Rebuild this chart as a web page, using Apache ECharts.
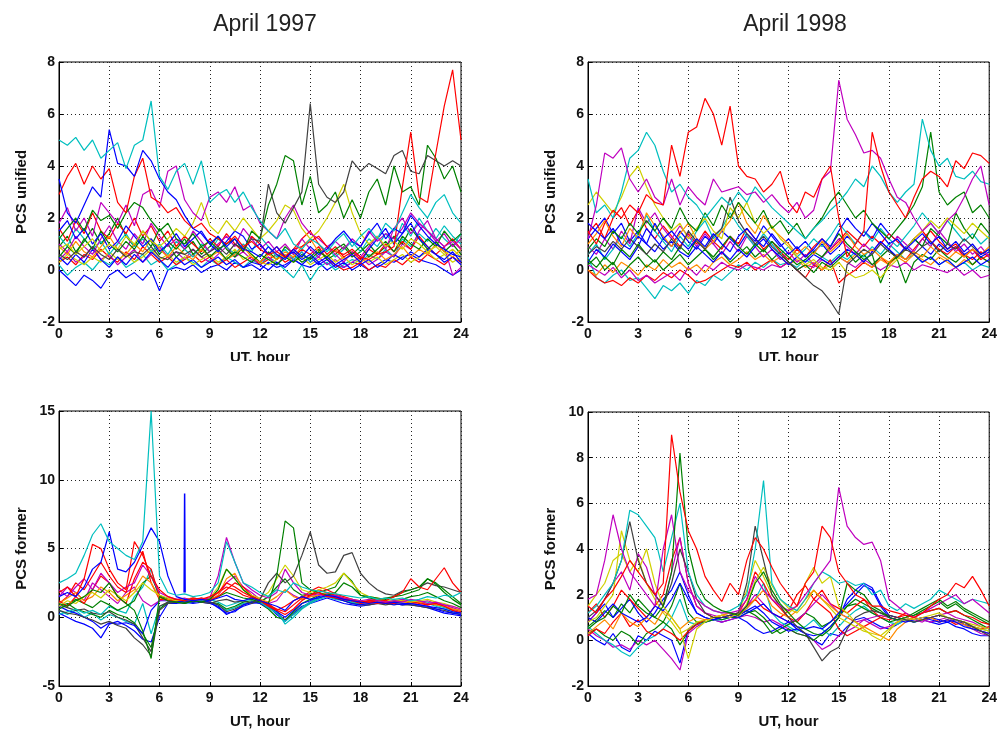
<!DOCTYPE html>
<html>
<head>
<meta charset="utf-8">
<script src="https://cdn.jsdelivr.net/npm/echarts@6/dist/echarts.min.js"></script>
<style>
  html, body { margin: 0; padding: 0; background: #fff; }
  #chart { width: 1000px; height: 733px; }
</style>
</head>
<body>
<div id="chart"></div>
<script>
// UT hours, half-hour steps
const hours = [0,0.5,1,1.5,2,2.5,3,3.5,4,4.5,5,5.5,6,6.5,7,7.5,8,8.5,9,9.5,10,10.5,11,11.5,12,12.5,13,13.5,14,14.5,15,15.5,16,16.5,17,17.5,18,18.5,19,19.5,20,20.5,21,21.5,22,22.5,23,23.5,24];

// ---- April 1997, PCS unified ----
const u97Cyan    = [5.0,4.8,5.1,4.6,5.0,4.3,4.6,4.9,3.9,4.8,5.0,6.5,3.6,3.1,3.8,4.1,3.3,4.2,2.6,2.9,3.1,2.6,3.0,2.4,1.9,1.5,1.2,1.6,1.0,0.8,1.2,1.0,0.7,1.1,1.4,0.9,1.3,1.6,1.2,1.8,1.5,2.2,2.9,2.4,2.0,2.6,2.9,2.2,1.8];
const u97Blue    = [3.5,2.2,1.8,2.5,3.2,2.8,5.4,4.1,4.0,3.6,4.6,4.2,3.5,3.0,2.7,2.1,1.6,1.4,1.0,1.3,0.9,1.2,0.8,0.7,0.5,0.9,0.6,0.4,0.8,0.5,0.9,0.6,0.8,1.2,1.5,1.1,0.9,1.4,1.8,1.2,1.6,1.4,2.1,1.7,1.3,1.0,0.8,0.6,0.5];
const u97Red     = [2.9,3.6,4.1,3.3,4.0,3.5,3.9,2.6,2.2,3.6,4.3,2.8,2.6,2.2,2.4,1.9,1.6,1.8,1.4,1.2,1.0,1.3,0.9,1.1,0.8,0.6,0.7,0.5,0.8,0.9,1.1,1.3,0.9,0.7,0.6,0.8,0.5,0.4,0.6,0.7,0.9,3.2,5.3,2.8,2.6,4.5,6.3,7.7,5.0];
const u97Black   = [0.6,0.4,0.7,0.5,0.9,0.6,0.4,0.8,0.5,0.7,0.6,0.9,0.5,0.4,0.7,0.6,0.8,0.5,0.7,0.9,0.6,1.0,0.8,1.2,1.1,3.3,2.2,1.8,2.4,3.0,6.4,3.3,2.8,2.6,3.0,4.2,3.8,4.1,3.9,3.7,4.4,4.6,3.8,3.7,4.4,4.2,4.0,4.2,4.0];
const u97Green   = [1.2,1.6,2.0,1.5,2.3,1.9,2.1,1.6,2.2,2.6,2.4,1.9,1.5,1.8,1.2,1.0,1.4,0.9,1.1,0.8,1.0,1.2,0.7,1.5,1.2,2.5,3.3,4.4,4.2,2.5,3.6,2.2,2.5,3.0,2.0,2.7,2.0,3.0,3.5,2.5,4.0,3.0,3.2,2.5,4.8,4.3,3.5,4.0,3.0];
const u97Magenta = [1.8,2.4,1.5,2.0,1.3,2.6,2.2,1.8,2.5,1.7,2.9,3.1,2.4,3.8,4.0,2.7,2.2,1.9,2.8,3.0,2.6,3.2,2.3,2.5,1.8,1.5,1.2,2.0,2.5,1.8,1.4,1.2,0.9,1.1,0.8,1.2,0.9,1.5,1.1,1.4,1.2,1.6,2.2,1.8,1.5,1.2,0.9,1.1,0.8];
const u97Yellow  = [0.8,1.0,0.6,0.9,1.2,0.7,1.0,0.8,1.3,1.0,1.5,1.1,0.9,1.2,1.6,1.3,1.8,2.6,1.7,1.4,1.9,1.5,2.0,1.6,1.2,1.5,1.9,2.5,2.3,1.6,1.2,1.5,2.0,2.6,3.3,2.2,1.4,1.0,1.3,0.9,1.1,0.8,1.2,1.0,0.7,0.9,0.6,0.8,0.5];
const u97BlueLow = [0.0,-0.3,-0.6,-0.2,-0.4,-0.7,-0.2,0.0,-0.3,-0.1,-0.4,0.0,-0.8,0.0,0.1,0.0,0.2,-0.1,0.1,0.2,0.0,0.3,0.1,0.2,0.0,0.3,0.1,0.2,0.4,0.2,0.1,0.3,0.0,0.2,0.1,0.3,0.2,0.0,0.2,0.4,0.3,0.5,0.6,0.4,0.3,0.2,0.0,-0.2,0.0];
const u97CyanLow = [0.2,-0.2,0.1,0.3,0.0,0.4,0.2,0.5,0.1,0.3,0.6,0.2,0.4,0.0,0.2,0.5,0.3,0.1,0.4,0.2,0.5,0.3,0.1,0.4,0.2,0.5,0.3,0.0,-0.3,0.2,-0.4,0.1,0.3,0.0,0.2,0.4,0.3,0.6,0.4,0.8,0.5,1.2,0.9,1.4,1.1,1.6,1.2,0.9,1.4];
const u97GreenMid = [0.5,0.9,0.6,1.2,0.8,1.5,1.0,0.7,1.1,0.8,1.3,0.9,1.6,1.1,0.8,1.2,0.6,0.9,0.5,0.8,0.4,0.7,0.5,0.3,0.6,0.4,0.2,0.5,0.3,0.6,0.4,0.7,0.5,0.8,1.0,0.6,0.9,0.5,0.8,1.1,0.7,1.3,1.0,0.8,1.2,0.9,1.5,1.1,1.4];
const u97RedLow  = [0.3,0.5,0.2,0.6,0.4,0.8,0.5,0.3,0.7,0.4,0.9,0.6,0.3,0.5,0.2,0.4,0.6,0.3,0.5,0.2,0.4,0.1,0.3,0.5,0.2,0.4,0.6,0.3,0.5,0.8,0.6,0.9,0.4,0.2,0.0,0.1,0.3,0.0,0.2,0.1,0.4,0.2,0.5,0.3,0.6,0.4,0.2,0.5,0.3];
const u97MagentaLow = [0.4,0.7,0.3,0.5,0.9,0.4,0.6,0.2,0.5,0.8,0.3,0.6,0.9,0.5,0.7,0.4,0.8,0.5,0.3,0.6,0.9,0.5,0.7,0.4,0.3,0.5,0.2,0.6,0.4,0.7,0.3,0.5,0.2,0.4,0.1,0.3,0.5,0.2,0.4,0.7,0.5,1.0,0.8,1.5,1.9,1.2,0.9,-0.2,0.1];
const u97BlueMid = [1.5,1.9,1.2,1.6,1.0,1.4,0.8,1.1,1.7,1.3,0.9,1.2,0.7,1.0,1.4,0.9,1.2,1.5,1.0,0.7,1.1,1.5,1.3,0.8,1.0,0.6,0.9,0.5,0.7,0.4,0.6,0.3,0.5,0.2,0.4,0.6,0.3,0.8,1.2,1.6,1.0,1.4,1.8,1.2,0.9,0.6,0.4,0.7,0.3];
const u97Orange  = [0.9,0.6,1.1,0.7,0.5,0.9,1.3,0.8,0.6,1.0,0.7,1.2,0.8,0.5,0.9,0.6,0.4,0.8,0.5,0.7,0.4,0.6,0.9,0.5,0.3,0.6,0.4,0.7,0.5,0.9,1.2,0.7,0.5,0.8,0.4,0.6,0.3,0.5,0.7,0.4,0.6,0.9,0.5,0.8,0.6,1.0,0.7,0.5,0.8];
const u97GreenLow2 = [0.9,1.3,0.7,1.1,1.6,1.0,1.4,2.0,1.3,0.9,1.5,1.1,0.6,1.0,0.5,0.8,1.1,0.6,0.9,1.3,0.8,0.5,0.9,0.6,0.3,0.7,0.4,0.9,0.6,0.3,0.5,0.8,0.4,0.6,0.9,0.5,0.7,1.0,0.6,0.9,1.3,1.0,1.6,1.2,0.8,1.1,0.7,1.0,0.6];
const u97RedMid  = [1.6,1.1,1.9,1.4,2.2,1.5,1.2,1.8,1.4,2.0,1.3,1.7,1.1,1.5,0.9,1.3,1.0,0.7,1.2,0.9,1.4,1.0,0.7,1.3,1.0,0.6,0.9,0.5,0.8,1.2,1.5,1.0,0.6,0.9,0.5,0.7,0.4,0.8,0.6,1.0,0.7,1.1,0.8,1.3,0.9,0.6,0.9,1.2,0.8];
const u97MagentaMid = [1.0,0.7,1.3,0.9,0.6,1.2,1.7,1.1,0.8,1.4,1.0,1.8,1.3,0.9,1.2,0.8,1.5,1.1,0.7,1.0,1.3,0.9,1.6,1.2,0.8,1.1,0.7,1.0,0.6,1.2,0.8,0.5,0.9,0.6,0.3,0.7,0.5,0.9,1.3,0.8,1.6,2.0,1.4,1.8,1.5,1.1,1.4,0.9,1.2];
const u97BlueLow2 = [0.5,0.2,0.6,0.3,0.8,0.4,0.1,0.5,0.2,0.6,0.3,0.7,0.4,0.1,0.5,0.2,0.4,0.1,0.3,0.5,0.2,0.4,0.1,0.3,0.2,0.0,0.3,0.1,0.4,0.2,0.5,0.2,0.4,0.1,0.3,0.0,0.2,0.4,0.1,0.3,0.6,0.4,0.7,0.5,0.8,0.6,0.3,0.5,0.2];
const u97CyanMid = [1.3,0.9,1.6,1.2,0.8,1.1,0.6,1.0,1.4,0.9,1.2,0.7,1.0,0.6,1.1,0.8,0.5,1.0,0.7,1.2,0.9,0.6,1.0,0.7,1.3,0.9,0.5,0.8,0.4,0.7,0.3,0.6,0.9,0.5,0.8,1.1,0.7,1.2,0.9,1.4,1.0,1.8,1.3,2.0,1.5,1.2,1.7,1.3,1.0];
const u97YellowLow = [0.3,0.6,0.4,0.2,0.5,0.3,0.7,0.4,0.6,0.3,0.5,0.8,0.4,0.6,0.3,0.5,0.2,0.4,0.6,0.3,0.5,0.8,0.4,0.6,0.3,0.2,0.4,0.6,0.3,0.5,0.2,0.4,0.6,0.3,0.5,0.2,0.4,0.3,0.5,0.2,0.4,0.6,0.3,0.5,0.7,0.4,0.6,0.3,0.5];

// ---- April 1998, PCS unified ----
const u98Red     = [1.5,1.0,1.8,2.3,2.0,2.5,2.2,2.9,2.6,2.5,4.8,3.6,5.3,5.5,6.6,6.0,4.8,6.3,4.0,3.6,3.5,3.0,3.3,3.8,2.6,2.2,3.0,2.8,3.5,4.0,2.0,0.5,1.0,1.5,5.3,4.0,3.0,2.5,2.0,2.8,3.5,3.8,3.6,3.2,4.2,3.9,4.5,4.4,4.1];
const u98Magenta = [1.2,2.5,4.5,4.3,4.7,3.5,3.0,3.5,2.8,2.5,3.5,2.5,3.2,2.8,2.5,3.5,3.0,3.1,3.2,2.9,3.0,2.6,2.9,2.5,2.2,2.6,2.0,2.3,3.5,3.8,7.3,5.8,5.2,4.5,4.6,4.3,3.5,2.8,2.6,2.0,1.5,1.8,1.4,1.9,2.2,2.8,3.5,4.0,2.5];
const u98Cyan    = [3.5,2.2,2.5,2.0,3.0,4.3,4.6,5.3,4.8,3.8,3.0,3.3,2.8,2.5,2.0,2.4,2.8,2.5,3.0,2.6,3.2,2.8,2.4,2.1,1.8,1.5,1.2,1.6,1.9,2.3,2.6,3.0,3.5,3.2,4.0,3.6,3.0,2.6,3.0,3.3,5.8,4.6,4.0,4.3,3.6,3.5,3.8,3.4,3.3];
const u98Green   = [0.8,1.2,0.9,1.5,1.2,1.8,1.4,1.9,1.5,2.0,1.6,2.4,1.8,1.5,2.2,1.7,2.5,2.0,2.6,2.2,1.8,2.3,1.6,1.9,1.4,1.8,1.2,1.6,2.0,2.6,3.0,2.5,2.0,2.3,1.8,1.5,1.2,1.6,2.0,2.5,3.2,5.3,3.0,2.5,2.8,3.0,2.2,2.5,2.0];
const u98Blue    = [1.8,1.5,1.2,1.6,1.0,0.8,1.3,1.0,1.8,1.2,1.5,1.1,0.8,1.2,0.9,1.4,1.0,0.7,1.3,1.6,1.2,0.9,1.4,1.0,0.6,0.9,0.5,0.8,1.2,0.9,1.5,2.0,1.6,1.3,1.8,1.4,1.0,1.2,0.8,1.1,1.4,1.0,1.3,0.8,1.1,0.7,1.0,0.6,0.8];
const u98CyanLow = [0.5,-0.3,-0.5,-0.2,0.0,-0.4,-0.3,-0.7,-1.1,-0.6,-0.8,-0.5,-0.9,-0.4,-0.6,-0.2,-0.4,-0.1,0.2,0.0,0.3,0.1,0.4,0.2,0.3,0.1,0.4,0.2,0.5,0.3,0.6,0.4,0.7,0.5,0.9,0.6,1.0,0.7,0.4,0.6,0.3,0.5,0.2,0.4,0.1,0.3,0.0,0.2,0.1];
const u98RedLow  = [0.0,-0.3,-0.5,-0.4,-0.6,-0.3,-0.5,-0.2,-0.4,-0.1,-0.3,0.0,-0.2,-0.5,-0.4,-0.2,0.0,0.2,0.1,0.3,0.0,0.2,0.4,0.1,0.3,0.0,-0.3,0.2,0.0,0.4,-0.5,-0.2,0.0,0.3,0.1,0.5,0.2,0.6,0.4,0.8,1.2,1.5,1.1,0.8,1.0,0.6,0.4,0.7,0.5];
const u98Black   = [0.6,0.9,0.7,1.1,0.8,1.2,0.9,0.6,1.0,0.7,1.2,0.8,1.5,1.1,0.8,1.3,1.6,2.8,1.9,1.4,1.0,1.3,0.9,0.6,0.3,0.0,-0.3,-0.6,-0.8,-1.2,-1.7,0.2,0.5,0.8,0.6,1.0,0.7,0.5,0.8,0.6,0.9,1.1,0.7,1.0,0.8,1.2,0.9,0.6,0.8];
const u98Yellow  = [2.5,3.0,2.6,2.2,2.8,3.6,4.0,3.2,2.5,2.0,1.5,1.8,1.2,1.6,2.0,1.5,1.2,2.4,2.0,2.6,1.8,1.4,1.7,1.2,0.9,0.5,0.2,0.4,0.1,0.0,0.3,-0.1,-0.3,-0.2,0.0,-0.3,0.1,0.4,0.8,1.2,1.5,1.9,1.6,2.0,1.7,1.4,1.8,1.5,1.2];
const u98BlueMid = [0.3,0.8,0.5,1.0,0.7,0.4,0.9,1.6,1.2,0.8,1.1,0.7,0.5,0.9,0.6,0.3,0.7,0.4,0.8,0.5,0.9,1.2,0.8,0.5,0.2,0.5,0.3,0.6,0.4,0.2,0.5,0.8,0.6,0.3,0.7,1.1,0.8,0.5,0.9,0.6,0.3,0.5,0.2,0.4,0.1,0.3,0.5,0.2,0.4];
const u98MagentaLow = [0.2,0.0,-0.2,0.1,-0.3,0.0,-0.4,-0.2,-0.5,-0.3,-0.1,-0.4,0.1,-0.2,0.2,0.0,0.3,0.1,0.0,0.2,0.1,0.0,0.2,0.1,0.3,0.0,0.2,0.1,0.4,0.2,0.5,0.3,0.1,0.4,0.2,0.0,0.2,0.1,0.3,0.0,0.2,0.1,0.0,-0.1,0.1,-0.2,0.0,-0.3,-0.2];
const u98GreenMid = [0.4,0.1,0.5,0.2,0.8,0.5,1.0,0.6,0.3,0.7,0.4,0.9,0.6,1.2,0.8,0.5,0.9,1.3,0.9,0.6,1.0,0.7,1.1,0.8,0.5,0.2,0.4,0.7,0.5,0.9,1.4,1.0,0.7,0.4,0.6,-0.5,0.3,0.5,0.8,1.2,0.9,1.6,1.3,1.0,2.2,1.6,1.2,1.8,1.4];
const u98Orange  = [1.0,1.4,1.9,1.3,0.9,1.6,1.2,2.2,1.7,1.3,0.9,1.4,1.8,1.2,0.8,1.1,1.5,1.9,2.6,1.8,1.4,2.1,1.6,1.3,1.0,0.6,0.9,0.6,1.1,0.7,1.0,1.4,0.9,0.6,0.8,0.5,0.3,0.6,0.4,0.7,0.5,0.9,0.6,0.4,0.7,0.5,0.8,0.6,0.9];
const u98BlueMid2 = [1.2,1.6,2.0,1.4,1.8,1.1,1.5,1.0,0.7,1.2,0.9,1.5,1.1,0.8,1.3,1.0,1.5,1.2,0.9,1.4,1.1,1.7,1.3,0.9,1.2,0.8,1.1,0.7,1.0,0.6,0.9,1.3,1.0,1.5,1.2,1.8,1.4,1.1,0.8,1.2,0.9,0.6,1.0,0.7,0.9,0.6,0.8,0.5,0.7];
const u98GreenLow = [0.2,0.5,0.0,0.3,-0.2,0.2,0.5,0.1,0.4,0.0,0.3,0.6,0.2,0.5,0.8,0.4,0.7,0.3,0.6,0.9,0.5,0.8,0.4,0.7,0.3,0.0,0.2,-0.1,0.3,0.1,0.4,0.7,0.3,0.6,0.2,0.5,0.8,0.4,-0.5,0.3,0.6,0.4,0.8,0.5,0.3,0.6,0.2,0.5,0.3];
const u98RedMid  = [1.4,1.8,1.2,2.0,2.4,1.7,2.3,1.6,1.2,1.7,1.3,0.9,1.4,1.0,1.5,1.1,0.8,1.3,1.0,1.6,1.2,0.8,1.1,0.7,0.4,0.8,0.5,0.9,1.2,0.8,1.1,1.5,1.2,0.9,1.3,1.0,1.4,1.1,0.8,1.2,1.5,1.1,0.8,0.6,0.9,0.5,0.8,0.4,0.6];
const u98MagentaMid = [0.9,0.6,1.2,0.8,1.5,1.0,2.4,1.8,2.2,1.6,1.2,1.7,1.3,0.9,1.4,1.0,0.6,1.1,0.7,1.3,0.9,0.5,0.8,0.4,0.7,0.3,0.6,0.2,0.5,0.8,1.2,0.9,0.6,1.0,0.7,1.1,0.8,1.3,1.0,0.7,1.2,0.9,1.5,1.1,0.7,1.0,0.6,0.9,0.5];
const u98CyanMid = [0.6,1.0,0.4,0.8,1.3,0.9,1.4,2.1,1.5,1.1,0.7,1.3,0.9,1.5,1.9,1.2,1.6,2.2,1.7,1.3,0.9,1.4,1.0,0.6,0.9,0.5,0.8,1.2,0.9,1.3,1.8,1.4,1.0,1.5,1.1,1.6,1.2,0.9,1.3,1.7,2.2,1.8,1.4,1.9,1.5,1.1,1.4,1.0,1.3];
const u98OrangeLow = [0.0,-0.2,0.2,-0.1,0.3,0.1,-0.2,0.2,0.0,0.4,0.1,0.3,0.0,0.2,-0.1,0.3,0.5,0.2,0.4,0.7,0.4,0.6,0.3,0.5,0.2,0.4,0.1,0.3,0.0,0.2,0.5,0.3,0.6,0.3,0.1,0.4,0.2,0.5,0.3,0.6,0.4,0.2,0.5,0.3,0.1,0.4,0.2,0.5,0.3];

// ---- April 1997, PCS former ----
const f97Cyan    = [2.5,2.8,3.2,4.5,6.0,6.8,5.5,5.0,4.5,4.2,5.5,15.0,3.0,1.8,1.6,1.7,1.5,1.6,1.8,2.5,5.5,4.0,2.5,2.2,1.8,1.5,2.0,1.8,2.5,2.2,2.0,1.9,1.8,1.7,1.6,1.5,1.4,1.5,1.3,1.4,1.3,1.4,1.2,1.3,1.5,1.4,1.6,1.5,1.8];
const f97Blue    = [1.5,1.8,1.5,2.2,3.5,4.0,6.2,3.5,3.3,4.0,5.2,6.5,5.5,3.0,1.5,1.3,1.2,1.3,1.2,1.4,1.6,1.3,1.2,1.4,1.2,1.0,0.8,0.5,1.2,1.5,1.3,1.4,1.6,1.5,1.3,1.2,1.1,1.0,1.1,1.0,1.1,1.0,1.0,0.9,0.8,0.7,0.6,0.4,0.3];
const f97Red     = [1.8,2.2,1.5,2.8,5.3,5.0,3.5,2.5,2.0,5.5,4.5,3.0,2.0,1.5,1.3,1.2,1.4,1.3,1.5,1.8,2.5,2.2,1.8,1.5,1.2,1.0,0.5,0.8,1.2,1.5,1.6,1.8,1.5,1.4,1.3,1.2,1.1,1.2,1.3,1.2,1.5,1.8,2.8,2.2,2.0,2.8,3.6,2.5,1.8];
const f97Green   = [1.0,0.8,1.2,1.5,2.0,1.8,2.5,1.5,1.0,0.5,-1.0,-3.0,1.5,1.2,1.1,1.0,1.2,1.1,1.3,2.0,3.5,2.8,2.0,1.5,1.2,1.0,3.0,7.0,6.5,2.5,2.0,1.8,1.6,1.8,2.5,2.2,1.6,1.5,1.4,1.3,1.5,1.8,2.0,2.2,2.8,2.5,2.0,1.5,1.0];
const f97Black   = [0.5,0.3,0.2,0.0,-0.2,-0.5,-0.3,-0.6,-0.8,-1.5,-2.0,-2.8,0.5,1.0,1.1,1.0,1.2,1.1,1.0,1.2,1.3,1.1,1.2,1.0,1.3,2.5,3.2,2.5,3.0,4.5,6.2,3.8,3.2,3.3,4.5,4.7,3.2,2.5,2.0,1.7,1.6,1.9,2.0,2.2,2.5,2.3,2.2,2.0,1.8];
const f97Magenta = [2.0,1.5,2.2,2.8,2.0,3.2,2.5,1.8,2.2,2.5,3.8,3.0,1.8,1.5,1.3,1.4,1.2,1.3,1.4,3.0,5.8,4.0,2.5,2.0,1.6,1.4,1.8,3.5,2.5,1.8,1.6,1.7,1.5,1.6,1.4,1.3,1.2,1.3,1.2,1.1,1.2,1.1,1.3,1.2,1.0,1.1,0.9,0.8,0.6];
const f97Yellow  = [0.8,1.2,1.0,1.5,1.8,1.4,2.0,1.6,1.2,1.8,2.5,2.0,1.6,1.4,1.2,1.3,1.2,1.3,1.4,2.2,3.5,2.8,2.0,1.6,1.4,1.8,2.8,3.8,3.0,2.0,1.8,2.0,2.2,2.5,3.2,2.5,1.8,1.5,1.4,1.2,1.3,1.2,1.1,1.2,1.3,1.1,1.0,0.8,0.6];
const f97BlueLow = [0.3,0.0,-0.3,-0.5,-0.8,-1.5,-0.5,-0.3,-0.6,-1.0,-1.6,-1.8,0.0,1.0,1.0,1.1,1.0,1.1,1.0,0.8,0.2,0.5,0.8,1.0,1.1,0.8,0.2,-0.3,0.3,0.8,1.0,1.2,1.4,1.2,1.0,0.9,0.8,0.9,1.0,1.0,0.9,1.0,0.9,0.8,0.7,0.5,0.3,0.2,0.1];
const f97CyanLow = [0.5,0.2,0.5,0.0,0.3,-0.2,0.2,0.0,-0.3,-0.5,1.0,-1.2,0.8,1.0,1.2,1.0,1.1,1.2,1.1,0.9,0.5,0.7,1.0,1.1,1.2,0.9,0.5,-0.5,0.0,0.6,1.0,1.3,1.5,1.3,1.2,1.0,1.0,1.1,1.2,1.1,1.0,1.1,1.2,1.1,1.0,0.8,0.6,0.4,0.2];
const f97GreenLow = [0.8,1.0,0.6,0.4,0.2,0.0,0.5,0.2,0.0,-0.4,-1.2,-2.2,0.6,1.1,1.2,1.1,1.2,1.2,1.1,1.0,0.6,0.8,1.1,1.2,1.0,0.6,0.0,-0.2,0.4,1.0,1.3,1.6,1.8,1.5,1.3,1.1,1.0,1.2,1.3,1.2,1.1,1.3,1.5,1.6,1.8,1.5,1.2,1.0,0.7];
const f97RedMid  = [1.2,0.8,1.5,1.0,2.0,3.0,2.5,1.5,1.0,2.8,4.0,3.5,1.5,1.2,1.3,1.2,1.3,1.4,1.2,1.5,2.0,2.5,2.2,1.6,1.2,0.8,0.5,0.2,0.6,1.2,1.6,2.0,1.8,1.6,1.4,1.2,1.0,1.1,1.0,1.1,1.0,1.2,1.1,1.0,0.9,1.0,0.8,0.5,0.3];
const f97Orange  = [1.0,1.4,1.8,1.2,1.5,2.2,1.8,1.2,1.6,2.0,3.0,2.5,1.4,1.3,1.2,1.3,1.4,1.3,1.2,1.6,2.8,3.2,2.0,1.5,1.3,1.1,1.5,2.0,1.5,1.3,1.5,1.6,1.8,1.6,1.4,1.3,1.2,1.0,1.1,1.2,1.1,1.0,1.2,1.1,1.0,0.9,0.8,0.6,0.5];
const f97BlueLow2 = [0.8,0.5,0.3,0.0,-0.3,-0.8,-0.4,-0.5,-0.4,-0.6,-1.2,0.5,1.2,1.2,1.1,1.2,1.1,1.2,1.1,0.7,0.3,0.4,0.9,1.1,1.0,0.7,0.4,0.0,0.5,1.0,1.2,1.5,1.6,1.4,1.2,1.0,0.9,1.0,1.1,1.0,1.0,0.9,1.0,0.9,0.8,0.6,0.4,0.3,0.2];
const f97RedMid2 = [1.0,1.5,2.5,2.0,3.0,4.0,3.0,2.2,1.8,3.5,4.8,2.5,1.3,1.3,1.2,1.3,1.2,1.4,1.3,1.8,2.2,2.0,1.6,1.4,1.2,0.9,0.6,0.4,0.9,1.4,1.9,2.2,2.0,1.7,1.5,1.3,1.1,1.2,1.1,1.0,1.1,1.2,1.0,1.1,0.9,1.0,0.8,0.6,0.4];
const f97GreenMid = [0.6,0.9,1.3,1.0,0.7,1.2,0.9,0.5,0.8,1.2,2.5,3.0,1.6,1.3,1.2,1.3,1.2,1.3,1.3,1.5,1.8,1.6,1.4,1.3,1.1,1.5,2.2,2.8,2.0,1.6,1.7,1.8,2.0,2.2,3.2,2.6,1.6,1.4,1.3,1.4,1.5,1.6,1.8,2.0,2.8,2.4,1.8,1.3,0.9];
const f97MagentaMid = [1.5,2.2,1.8,1.2,2.5,2.0,1.5,1.0,1.8,2.2,1.2,0.8,1.2,1.3,1.2,1.3,1.4,1.3,1.2,1.6,2.5,3.0,2.2,1.8,1.3,1.0,1.2,2.0,1.6,1.3,1.5,1.6,1.7,1.5,1.3,1.2,1.2,1.1,1.2,1.1,1.2,1.3,1.2,1.1,1.2,1.0,0.9,0.7,0.5];
const f97CyanMid = [0.2,0.4,0.6,0.3,0.5,0.2,0.8,0.5,0.3,1.5,2.2,3.5,1.2,1.3,1.3,1.2,1.3,1.2,1.3,1.1,0.8,1.0,1.2,1.3,1.1,0.7,0.3,-0.3,0.2,0.7,1.1,1.4,1.7,1.5,1.3,1.1,1.0,1.1,1.0,1.1,1.2,1.0,1.1,1.2,1.1,0.9,0.7,0.5,0.3];
const f97BlackLow = [0.9,0.7,0.5,0.6,0.3,0.2,0.4,0.0,-0.2,-0.5,-1.5,-2.5,0.8,1.1,1.1,1.2,1.1,1.2,1.1,0.9,0.4,0.6,0.9,1.1,1.2,0.9,0.3,-0.2,0.2,0.7,1.1,1.4,1.6,1.4,1.2,1.0,0.9,0.9,1.0,0.9,1.0,0.9,0.9,0.8,0.7,0.6,0.5,0.3,0.2];
// the lone blue spike near 7.5 UT
const f97SpikeHours = [7.47,7.5,7.53];
const f97SpikeVals  = [1.8,9.0,1.8];

// ---- April 1998, PCS former ----
const f98Red     = [1.5,1.2,1.8,2.2,2.8,3.5,3.0,2.5,2.0,2.5,9.0,6.5,4.8,4.0,2.8,2.2,1.7,2.5,2.0,3.5,4.5,4.0,3.2,2.5,2.0,1.5,2.5,3.0,5.0,4.5,3.0,2.5,2.0,1.8,1.5,1.5,1.3,1.2,1.1,1.0,1.2,1.5,1.8,2.0,2.5,2.3,2.8,2.2,1.5];
const f98Green   = [0.5,0.8,1.0,1.5,1.2,2.0,1.5,1.2,1.0,1.5,3.0,8.2,4.0,2.5,1.8,1.5,1.3,1.2,1.1,1.5,2.5,3.0,2.2,1.6,1.2,0.8,0.5,0.3,0.2,0.5,1.0,2.5,2.2,2.0,1.5,1.3,1.0,0.9,1.0,1.2,1.4,1.6,1.8,1.5,1.7,1.4,1.2,1.0,0.8];
const f98Magenta = [1.8,2.0,3.5,5.5,4.0,3.0,2.5,2.0,1.5,4.0,5.5,3.0,2.2,1.8,1.5,1.3,1.2,1.2,1.3,1.8,2.8,2.2,1.8,1.5,1.3,1.5,2.0,2.5,3.0,3.5,6.7,5.0,4.5,4.2,4.3,3.5,1.8,1.5,1.2,1.0,1.2,1.4,1.6,1.8,2.0,1.6,1.8,1.5,1.2];
const f98Cyan    = [1.2,1.5,2.0,2.5,3.5,5.7,5.5,5.0,4.5,3.0,4.5,6.0,3.0,2.0,1.5,1.3,1.2,1.3,1.5,2.0,4.0,7.0,2.5,1.8,1.5,1.3,1.8,2.5,3.0,2.8,2.5,2.6,2.4,2.5,2.0,2.2,1.5,1.3,1.6,1.4,1.6,1.8,2.2,2.0,1.8,1.6,1.8,1.7,1.6];
const f98Black   = [1.0,1.3,1.8,2.5,3.5,5.2,3.5,2.5,2.0,1.5,2.5,4.0,3.0,1.8,1.2,1.0,1.0,1.1,1.2,2.5,5.0,3.5,2.0,1.5,1.0,0.6,0.3,-0.3,-0.9,-0.5,-0.3,0.5,1.0,1.2,1.3,1.2,1.1,1.0,0.9,0.8,0.9,1.0,1.1,1.0,0.9,0.8,0.6,0.4,0.2];
const f98Yellow  = [0.8,1.0,1.5,2.0,4.8,3.5,3.0,4.0,2.5,1.5,1.0,0.5,-0.8,0.5,0.8,1.0,1.1,1.0,1.2,2.2,3.5,2.8,2.0,1.5,1.2,1.5,2.5,3.2,2.5,2.8,1.5,1.2,0.8,0.5,0.2,0.0,0.4,0.8,1.0,0.9,1.0,1.1,1.2,1.0,0.9,0.8,0.7,0.6,0.5];
const f98Blue    = [1.0,0.8,1.2,1.6,1.2,1.0,0.8,1.0,1.5,1.3,1.8,2.5,1.8,1.2,1.0,0.9,1.0,1.1,1.0,1.2,1.4,1.6,1.2,1.0,0.8,0.6,0.5,0.6,0.5,0.8,1.2,1.6,2.0,2.4,2.2,1.5,1.0,0.9,0.8,0.9,1.0,0.9,0.8,0.9,0.8,0.6,0.5,0.4,0.3];
const f98BlueLow = [0.3,0.0,-0.2,0.3,-0.3,-0.5,0.2,0.0,0.4,0.2,0.0,-1.0,0.5,0.7,0.8,0.9,0.8,0.9,1.0,0.8,0.5,0.3,0.4,0.6,0.8,0.5,0.3,0.0,-0.2,0.3,0.2,0.6,0.9,1.0,0.8,0.6,0.5,0.7,0.9,0.8,0.9,0.8,0.7,0.8,0.6,0.5,0.3,0.2,0.2];
const f98MagentaLow = [0.5,0.2,0.0,-0.3,-0.2,-0.4,0.0,-0.2,0.0,-0.4,-0.8,-1.3,0.3,0.6,0.8,0.9,0.8,0.9,1.0,1.1,1.0,0.8,0.9,0.7,0.5,0.3,0.2,0.0,-0.4,-0.2,0.2,0.4,0.6,0.9,0.7,0.5,0.6,0.8,0.9,1.0,0.9,0.8,0.9,1.0,0.8,0.7,0.5,0.3,0.2];
const f98GreenMid = [0.6,0.9,1.3,1.0,1.6,1.2,1.8,1.4,1.0,0.8,0.5,-0.2,0.4,0.7,0.9,1.0,0.9,1.0,1.1,1.3,1.1,0.8,0.3,0.5,0.7,0.9,1.2,1.0,0.6,0.8,1.1,1.5,1.8,1.6,1.4,1.2,1.0,0.9,1.0,1.1,1.3,1.5,1.7,1.4,1.6,1.3,1.1,0.9,0.7];
const f98RedLow  = [0.2,0.5,0.3,0.8,1.2,0.6,0.9,0.4,0.2,0.5,0.3,0.0,0.4,0.7,0.9,1.0,1.1,1.0,1.2,1.5,1.8,1.4,1.2,1.0,1.3,2.0,2.4,1.8,1.5,1.2,0.5,0.2,0.4,0.6,0.8,1.0,1.1,1.0,1.2,1.0,0.9,1.0,0.8,0.9,0.7,0.8,0.6,0.5,0.6];
const f98Orange  = [0.3,0.6,0.9,0.5,1.2,0.8,0.6,1.0,0.7,1.3,1.0,0.5,0.8,1.0,0.9,1.0,1.1,1.2,1.1,1.4,1.8,2.2,1.5,1.2,1.0,1.3,1.8,2.2,1.8,1.5,1.2,1.0,0.8,0.6,0.4,0.2,0.0,0.5,0.8,1.0,0.9,1.0,0.8,0.9,0.8,0.7,0.5,0.4,0.3];
const f98BlueMid = [0.8,1.2,1.6,1.0,1.4,1.8,1.2,0.8,1.2,1.8,2.2,3.0,2.0,1.2,1.0,0.9,1.0,1.0,1.1,1.3,1.5,1.2,0.8,0.6,0.4,0.5,0.3,0.2,0.3,0.6,1.0,1.8,2.2,2.5,2.3,1.6,1.1,1.0,0.9,0.9,1.0,1.0,0.9,0.8,0.9,0.7,0.6,0.4,0.3];
const f98GreenLow = [0.3,0.5,0.2,0.0,0.4,0.2,-0.2,0.3,0.5,0.8,1.5,2.5,1.2,0.8,0.8,0.9,1.0,1.0,1.0,1.2,1.3,1.0,0.6,0.3,0.5,0.3,0.2,0.0,0.3,0.6,1.0,1.5,1.6,1.4,1.2,1.0,0.8,0.9,1.0,1.1,1.2,1.3,1.4,1.2,1.3,1.1,0.9,0.7,0.5];
const f98CyanLow = [0.6,0.3,0.0,-0.2,-0.5,-0.7,-0.3,0.0,0.2,0.5,1.0,1.8,0.8,0.7,0.8,0.9,0.9,1.0,1.1,1.4,1.8,2.5,1.2,0.8,0.6,0.4,0.6,0.9,0.5,0.2,0.6,1.0,1.3,1.5,1.2,1.0,0.8,0.7,0.9,0.8,0.9,1.0,1.1,1.0,0.9,0.8,0.6,0.5,0.4];
const f98RedMid  = [1.2,1.6,1.0,1.5,2.2,1.8,1.4,1.0,1.5,2.0,3.5,4.5,2.5,1.5,1.2,1.0,1.0,1.1,1.2,1.8,3.0,2.5,1.8,1.4,1.0,0.8,1.2,1.8,2.2,1.6,1.4,1.2,1.5,1.8,1.3,1.0,0.9,1.0,1.1,1.0,1.2,1.3,1.4,1.2,1.3,1.1,1.0,0.8,0.7];
const f98YellowMid = [1.5,2.0,2.5,3.5,3.8,3.0,3.6,2.5,1.8,1.2,0.8,0.3,0.5,0.8,0.9,1.0,1.1,1.2,1.0,1.6,2.6,3.2,2.4,1.8,1.4,1.2,1.6,2.2,1.8,1.4,1.0,0.8,0.6,0.4,0.3,0.2,0.5,0.8,0.9,1.0,0.9,1.0,1.1,1.0,0.9,0.8,0.6,0.5,0.4];
const f98MagentaMid = [0.8,1.2,1.8,2.5,3.0,2.2,3.8,3.2,2.0,1.5,3.0,4.5,2.5,1.5,1.2,1.1,1.0,1.1,1.2,1.5,2.0,1.6,1.2,1.0,0.8,0.9,1.2,1.6,2.0,1.6,1.2,1.0,0.8,0.9,1.0,1.1,1.0,0.9,1.0,0.9,0.8,1.0,1.1,1.2,1.0,0.9,0.8,0.6,0.5];

// matlab-ish line colours
const C = {
  b: '#0000ff', g: '#008000', r: '#ff0000', c: '#00bfbf',
  m: '#bf00bf', y: '#d0d000', k: '#404040', o: '#ff8c00'
};

const panels = [
  { grid: 0, lines: [
      [u97BlueLow, C.b], [u97CyanLow, C.c], [u97RedLow, C.r], [u97MagentaLow, C.m],
      [u97YellowLow, C.y], [u97BlueLow2, C.b], [u97GreenLow2, C.g], [u97CyanMid, C.c],
      [u97RedMid, C.r], [u97MagentaMid, C.m],
      [u97Orange, C.o], [u97GreenMid, C.g], [u97BlueMid, C.b], [u97Yellow, C.y],
      [u97Magenta, C.m], [u97Green, C.g], [u97Black, C.k], [u97Red, C.r],
      [u97Blue, C.b], [u97Cyan, C.c]
  ]},
  { grid: 1, lines: [
      [u98CyanLow, C.c], [u98RedLow, C.r], [u98MagentaLow, C.m], [u98OrangeLow, C.o],
      [u98GreenLow, C.g], [u98BlueMid2, C.b], [u98RedMid, C.r], [u98MagentaMid, C.m],
      [u98CyanMid, C.c], [u98BlueMid, C.b],
      [u98GreenMid, C.g], [u98Orange, C.o], [u98Yellow, C.y], [u98Black, C.k],
      [u98Blue, C.b], [u98Green, C.g], [u98Cyan, C.c], [u98Magenta, C.m],
      [u98Red, C.r]
  ]},
  { grid: 2, lines: [
      [f97BlueLow, C.b], [f97CyanLow, C.c], [f97GreenLow, C.g], [f97BlackLow, C.k],
      [f97BlueLow2, C.b], [f97CyanMid, C.c], [f97MagentaMid, C.m], [f97GreenMid, C.g],
      [f97RedMid2, C.r], [f97Orange, C.o],
      [f97RedMid, C.r], [f97Yellow, C.y], [f97Magenta, C.m], [f97Black, C.k],
      [f97Green, C.g], [f97Red, C.r], [f97Blue, C.b], [f97Cyan, C.c]
  ]},
  { grid: 3, lines: [
      [f98BlueLow, C.b], [f98MagentaLow, C.m], [f98CyanLow, C.c], [f98GreenLow, C.g],
      [f98GreenMid, C.g], [f98RedLow, C.r], [f98BlueMid, C.b], [f98RedMid, C.r],
      [f98YellowMid, C.y], [f98MagentaMid, C.m],
      [f98Orange, C.o], [f98Blue, C.b], [f98Yellow, C.y], [f98Black, C.k],
      [f98Cyan, C.c], [f98Magenta, C.m], [f98Green, C.g], [f98Red, C.r]
  ]}
];

const font = 'Liberation Sans, Arial, sans-serif';

const grids = [
  { left: 59, top: 62, width: 402, height: 260 },
  { left: 588, top: 62, width: 403, height: 260 },
  { left: 59, top: 411, width: 402, height: 275 },
  { left: 588, top: 412, width: 403, height: 274 }
].map(g => Object.assign(g, { show: true, borderColor: '#000', borderWidth: 1, backgroundColor: '#fff', z: 0 }));

const yRanges = [[-2, 8, 2, 'PCS unified'], [-2, 8, 2, 'PCS unified'], [-5, 15, 5, 'PCS former'], [-2, 10, 2, 'PCS former']];

const gridDots = { show: true, lineStyle: { type: [1, 3], color: '#222', width: 1 } };

function xAxisFor(i) {
  return {
    type: 'value', gridIndex: i, min: 0, max: 24, interval: 3,
    name: 'UT, hour', nameLocation: 'middle', nameGap: 28,
    nameTextStyle: { fontFamily: font, fontWeight: 'bold', fontSize: 15, color: '#111' },
    axisLine: { onZero: false, lineStyle: { color: '#000' } },
    axisTick: { inside: true, length: 4, lineStyle: { color: '#000' } },
    axisLabel: { fontFamily: font, fontWeight: 'bold', fontSize: 14, color: '#111', margin: 5 },
    splitLine: gridDots
  };
}
function yAxisFor(i) {
  const [mn, mx, step, label] = yRanges[i];
  return {
    type: 'value', gridIndex: i, min: mn, max: mx, interval: step,
    name: label, nameLocation: 'middle', nameGap: 30, nameRotate: 90,
    nameTextStyle: { fontFamily: font, fontWeight: 'bold', fontSize: 15, color: '#111' },
    axisLine: { onZero: false, lineStyle: { color: '#000' } },
    axisTick: { inside: true, length: 4, lineStyle: { color: '#000' } },
    axisLabel: { fontFamily: font, fontWeight: 'bold', fontSize: 14, color: '#111', margin: 4 },
    splitLine: gridDots
  };
}

const series = [];
panels.forEach(p => {
  p.lines.forEach(([vals, col]) => {
    series.push({
      type: 'line', xAxisIndex: p.grid, yAxisIndex: p.grid,
      data: hours.map((h, i) => [h, vals[i]]),
      showSymbol: false, symbol: 'none', silent: true, clip: true,
      lineStyle: { color: col, width: 1.2 }
    });
  });
});
series.push({
  type: 'line', xAxisIndex: 2, yAxisIndex: 2,
  data: f97SpikeHours.map((h, i) => [h, f97SpikeVals[i]]),
  showSymbol: false, symbol: 'none', silent: true,
  lineStyle: { color: C.b, width: 1.5 }
});

const chart = echarts.init(document.getElementById('chart'), null, { renderer: 'canvas' });
chart.setOption({
  animation: false,
  backgroundColor: '#fff',
  title: [
    { text: 'April 1997', left: 260, top: 8, textAlign: 'center',
      textStyle: { fontFamily: font, fontWeight: 'normal', fontSize: 23, color: '#222' } },
    { text: 'April 1998', left: 790, top: 8, textAlign: 'center',
      textStyle: { fontFamily: font, fontWeight: 'normal', fontSize: 23, color: '#222' } }
  ],
  grid: grids,
  xAxis: [0, 1, 2, 3].map(xAxisFor),
  yAxis: [0, 1, 2, 3].map(yAxisFor),
  series: series,
  graphic: [
    // the upper "UT, hour" labels are cut off in the original figure
    { type: 'rect', shape: { x: 0, y: 361, width: 1000, height: 30 }, style: { fill: '#fff' }, z: 100 }
  ]
});
</script>
</body>
</html>
